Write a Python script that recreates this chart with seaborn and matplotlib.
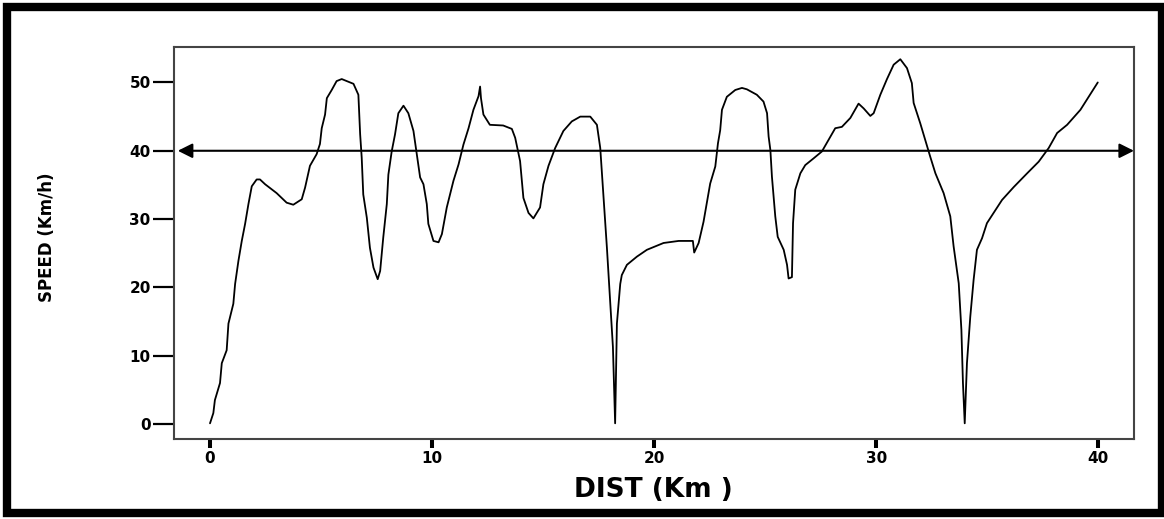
import matplotlib.pyplot as plt
import seaborn as sns
from matplotlib.patches import Rectangle

# distance (km) and speed (km/h)
dist = [0.0, 0.15, 0.22, 0.45, 0.53, 0.75, 0.83, 1.05, 1.13, 1.28, 1.43, 1.58, 1.73, 1.88,
        2.1, 2.25, 2.48, 3.0, 3.45, 3.75, 4.13, 4.28, 4.5, 4.8, 4.95, 5.03, 5.18, 5.26,
        5.48, 5.7, 5.93, 6.16, 6.46, 6.68, 6.76, 6.83, 6.9, 7.06, 7.2, 7.36, 7.55, 7.66,
        7.8, 7.96, 8.03, 8.18, 8.33, 8.48, 8.71, 8.93, 9.16, 9.31, 9.46, 9.61, 9.76, 9.83,
        10.06, 10.29, 10.44, 10.66, 10.96, 11.19, 11.41, 11.64, 11.86, 12.09, 12.16, 12.2,
        12.31, 12.6, 13.2, 13.59, 13.74, 13.96, 14.11, 14.34, 14.56, 14.86, 15.01, 15.24,
        15.54, 15.91, 16.29, 16.67, 17.12, 17.42, 17.57, 17.72, 17.87, 18.02, 18.14, 18.24,
        18.32, 18.47, 18.54, 18.77, 19.22, 19.67, 20.42, 21.1, 21.74, 21.8, 22.0, 22.22,
        22.52, 22.75, 22.87, 22.97, 23.05, 23.27, 23.65, 23.95, 24.17, 24.62, 24.92, 25.08,
        25.15, 25.23, 25.3, 25.45, 25.56, 25.83, 25.98, 26.05, 26.2, 26.25, 26.35, 26.58,
        26.8, 27.18, 27.55, 27.85, 28.15, 28.45, 28.83, 29.2, 29.43, 29.73, 29.88, 30.18,
        30.48, 30.78, 31.08, 31.38, 31.6, 31.68, 31.98, 32.2, 32.43, 32.66, 33.03, 33.33,
        33.48, 33.71, 33.83, 33.9, 33.98, 34.08, 34.23, 34.38, 34.53, 34.76, 34.98, 35.36,
        35.66, 36.19, 36.79, 37.31, 37.76, 38.14, 38.59, 39.19, 39.56, 39.97]
speed = [0.1, 1.6, 3.5, 6.0, 8.9, 10.8, 14.7, 17.6, 20.5, 23.9, 26.8, 29.3, 32.2, 34.8,
         35.8, 35.8, 35.1, 33.8, 32.4, 32.1, 32.9, 34.6, 37.8, 39.5, 41.0, 43.3, 45.3, 47.7,
         48.9, 50.2, 50.5, 50.2, 49.8, 48.2, 42.4, 39.0, 33.6, 30.2, 25.8, 22.9, 21.2, 22.4,
         27.3, 32.2, 36.5, 39.9, 42.4, 45.5, 46.6, 45.5, 42.9, 39.5, 36.1, 35.1, 32.2, 29.3,
         26.8, 26.6, 27.8, 31.7, 35.6, 38.0, 40.9, 43.3, 46.0, 48.0, 49.4, 47.7,
         45.3, 43.8, 43.7, 43.2, 41.9, 38.5, 33.1, 30.9, 30.1, 31.7, 35.1, 37.8,
         40.4, 42.9, 44.3, 45.0, 45.0, 43.8, 40.4, 33.1, 25.8, 17.6, 11.3, 0.1,
         14.7, 20.5, 21.8, 23.3, 24.5, 25.5, 26.5, 26.8, 26.8, 25.1, 26.5, 29.6,
         35.2, 37.7, 41.1, 43.0, 46.0, 47.9, 48.9, 49.2, 49.0, 48.2, 47.2, 45.5,
         42.1, 40.1, 36.2, 30.4, 27.4, 25.5, 23.3, 21.3, 21.5, 29.4, 34.3, 36.7,
         37.9, 38.9, 39.9, 41.6, 43.3, 43.5, 44.8, 46.9, 46.2, 45.1, 45.5, 48.2,
         50.5, 52.6, 53.4, 52.1, 49.9, 47.0, 44.0, 41.6, 39.1, 36.7, 33.8, 30.4,
         26.0, 20.6, 13.8, 6.0, 0.1, 8.9, 15.7, 21.1, 25.5, 27.2, 29.4, 31.3,
         32.8, 34.7, 36.7, 38.4, 40.4, 42.6, 43.8, 46.0, 47.9, 50.0]

x_ticks = [0, 10, 20, 30, 40]
y_ticks = [0, 10, 20, 30, 40, 50]
ref_speed = 40

sns.set_style("white")
plt.rcParams['font.family'] = ['DejaVu Sans']
plt.rcParams['text.color'] = 'black'
plt.rcParams['xtick.color'] = 'black'
plt.rcParams['ytick.color'] = 'black'

fig = plt.figure(figsize=(11.64, 5.19), dpi=100)
ax = fig.add_axes([0.1497, 0.1541, 0.8245, 0.7548])

sns.lineplot(x=dist, y=speed, ax=ax, color='black', linewidth=1.3,
             sort=False, estimator=None)

ax.set_xlim(-1.61, 41.6)
ax.set_ylim(-2.2, 55.15)
ax.set_xticks(x_ticks)
ax.set_yticks(y_ticks)
ax.set_xticklabels([str(t) for t in x_ticks], fontsize=11, fontweight='heavy', color='black')
ax.set_yticklabels([str(t) for t in y_ticks], fontsize=11, fontweight='heavy', color='black')
ax.tick_params(axis='y', direction='out', length=15, width=1.6, color='black', pad=2, left=True)
ax.tick_params(axis='x', direction='out', length=6.5, width=2.9, color='black', pad=2, bottom=True)

for s in ax.spines.values():
    s.set_color('#444444')
    s.set_linewidth(1.5)

# reference speed line with arrows at both ends
ax.annotate('', xy=(41.6, ref_speed), xytext=(-1.45, ref_speed),
            arrowprops=dict(arrowstyle='<|-|>', color='black', lw=1.5,
                            mutation_scale=22, shrinkA=0, shrinkB=0))

ax.set_xlabel('')
ax.set_ylabel('')
fig.text(0.561, 0.056, 'DIST (Km )', fontsize=19, fontweight='heavy', color='black',
         ha='center', va='center')
fig.text(0.040, 0.543, 'SPEED (Km/h)', fontsize=12, fontweight='heavy', color='black',
         rotation=90, ha='center', va='center')

# outer frame
fig.patches.append(Rectangle((0.006, 0.012), 0.992, 0.975, transform=fig.transFigure,
                             fill=False, edgecolor='black', linewidth=6))

fig.savefig('out.png', dpi=100)
